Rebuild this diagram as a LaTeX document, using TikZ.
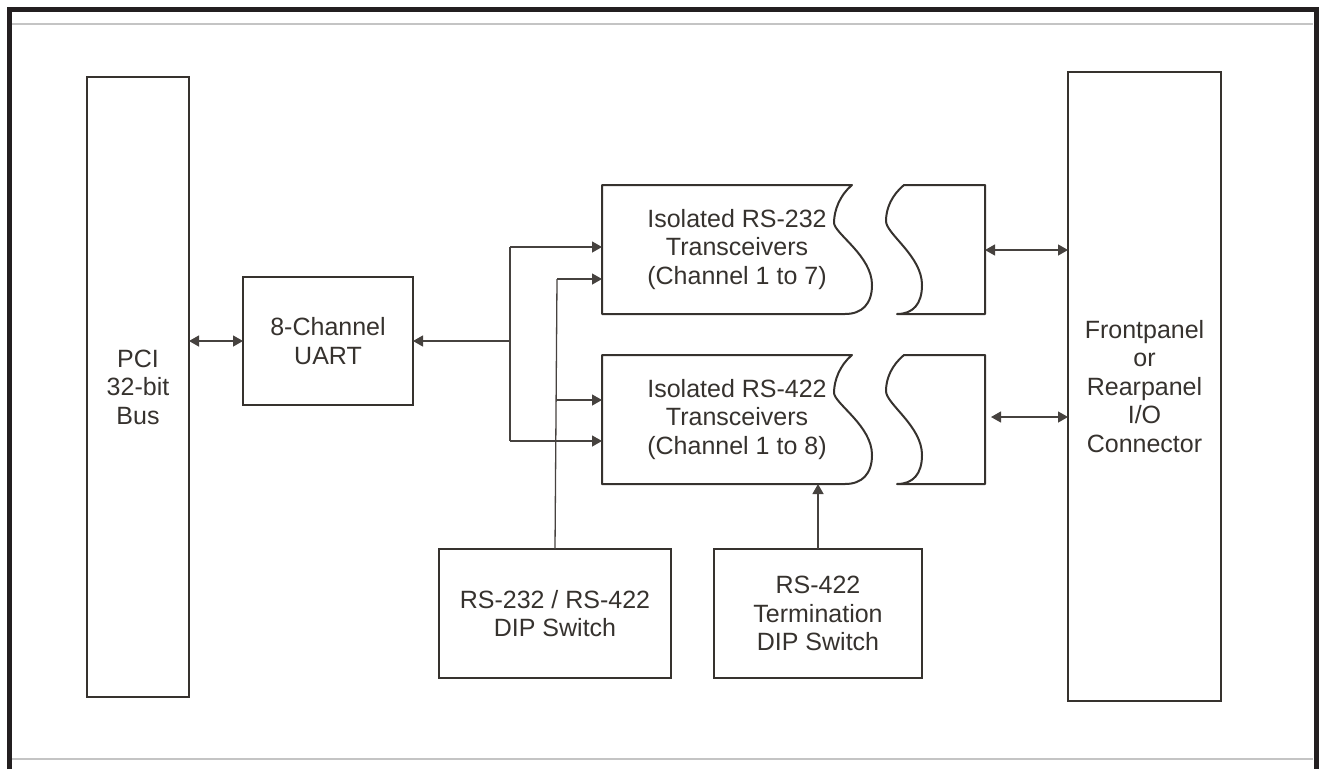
\documentclass[tikz,border=0pt]{standalone}
\usepackage{fontspec}
\setmainfont{Liberation Sans}
\usetikzlibrary{arrows.meta}
\definecolor{ink}{HTML}{36322E}
\definecolor{wire}{HTML}{46423F}
\definecolor{framec}{HTML}{231F20}
\definecolor{rulec}{HTML}{C4C4C4}
\tikzset{
  txt/.style={inner sep=0pt, outer sep=0pt, align=center, text=ink,
    font=\fontsize{25}{28.5}\selectfont},
  blk/.style={txt, draw=ink, line width=2pt},
  wireline/.style={draw=wire, line width=1.3pt},
  conn/.style={wireline, -{Triangle[length=10pt,width=11pt]}},
  bconn/.style={wireline, {Triangle[length=10pt,width=11pt]}-{Triangle[length=10pt,width=11pt]}},
  shp/.style={draw=ink, line width=2pt, line join=round},
}
\begin{document}
\begin{tikzpicture}[x=1pt,y=-1pt]
\useasboundingbox (0,0) rectangle (1322,769);
% frame
\draw[framec, line width=5pt] (9.5,769) -- (9.5,9.5) -- (1316.5,9.5) -- (1316.5,769);
\draw[rulec, line width=1.3pt] (12,24) -- (1313,24);
\draw[rulec, line width=1.3pt] (12,759) -- (1313,759);

% blocks
\node[blk, minimum width=102pt, minimum height=620pt] (pci) at (138,387) {PCI\\32-bit\\Bus};
\node[blk, minimum width=170pt, minimum height=128pt] (uart) at (328,341) {8-Channel\\UART};
\node[blk, minimum width=153pt, minimum height=629pt] (io) at (1144.5,386.5) {Frontpanel\\or\\Rearpanel\\I/O\\Connector};
\node[blk, minimum width=232pt, minimum height=129pt] (dip1) at (555,613.5) {RS-232 / RS-422\\DIP Switch};
\node[blk, minimum width=208pt, minimum height=129pt] (dip2) at (818,613.5) {RS-422\\Termination\\DIP Switch};

% transceivers (text nodes + custom outlines)
\node[txt, minimum width=270pt, minimum height=129pt] (t1) at (737,249.5) {Isolated RS-232\\Transceivers\\(Channel 1 to 7)};
\node[txt, minimum width=270pt, minimum height=129pt] (t2) at (737,419.5) {Isolated RS-422\\Transceivers\\(Channel 1 to 8)};
\foreach \dy in {0,170}{
  \begin{scope}[shift={(0,\dy)}]
    \draw[shp] (602,185) -- (852,185)
      .. controls (840,195) and (834,210) .. (834,223)
      .. controls (835,234) and (872,256) .. (872,285)
      .. controls (872,304) and (862,314) .. (845,314)
      -- (602,314) -- cycle;
    \draw[shp] (904,185) -- (985,185) -- (985,314) -- (897,314)
      .. controls (913,314) and (922,304) .. (922,285)
      .. controls (922,256) and (886,234) .. (886,221)
      .. controls (886,208) and (892,195) .. (904,185) -- cycle;
  \end{scope}
}

% connectors
\draw[bconn] (pci.east |- uart.west) -- (uart.west);
\coordinate (bt) at (510,247);
\coordinate (bb) at (510,441);
\coordinate (bj) at (510,341);
\draw[wireline] (bt) -- (bb);
\draw[conn] (bj) -- (uart.east |- bj);
\draw[conn] (bt) -- (t1.west |- bt);
\draw[conn] (bb) -- (t2.west |- bb);
\coordinate (d1) at (557,279);
\coordinate (d2) at (557,400);
\draw[wireline] (dip1.north) -- (d1);
\draw[conn] (d1) -- (t1.west |- d1);
\draw[conn] (d2) -- (t2.west |- d2);
\draw[conn] (dip2.north) -- (dip2.north |- t2.south);
\coordinate (c1r) at (985,250);
\coordinate (c2r) at (991,417);
\draw[bconn] (c1r) -- (io.west |- c1r);
\draw[bconn] (c2r) -- (io.west |- c2r);
\end{tikzpicture}
\end{document}
